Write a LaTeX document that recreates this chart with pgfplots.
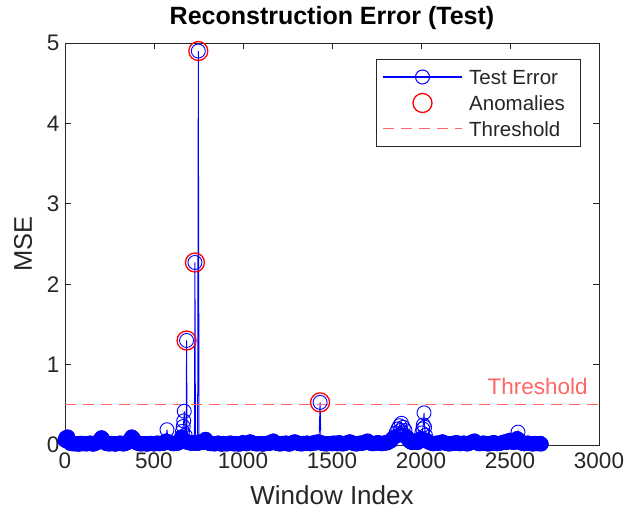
\documentclass[border=0pt]{standalone}
\usepackage{fontspec}
\setmainfont{Liberation Sans}
\usepackage{pgfplots}
\pgfplotsset{compat=1.18}
\usepackage{pgfplotstable}
\definecolor{errblue}{RGB}{0,0,255}
\definecolor{anomred}{RGB}{255,0,0}
\definecolor{thrred}{RGB}{255,102,102}
\definecolor{axgray}{RGB}{38,38,38}

% window index, mse
\pgfplotstableread{
x y
0 0.06
5 0.09
10 0.05
15 0.10
20 0.04
30 0.02
40 0.015
50 0.02
60 0.012
70 0.018
80 0.01
90 0.022
100 0.015
110 0.02
120 0.012
130 0.018
140 0.025
150 0.015
160 0.01
170 0.02
180 0.03
190 0.05
200 0.07
205 0.09
210 0.08
220 0.04
230 0.02
240 0.015
250 0.012
260 0.02
270 0.018
280 0.01
290 0.015
300 0.02
310 0.025
320 0.015
330 0.012
340 0.02
350 0.03
360 0.05
370 0.08
375 0.10
380 0.09
390 0.06
400 0.03
410 0.02
420 0.015
430 0.012
440 0.018
450 0.02
460 0.01
470 0.015
480 0.022
490 0.018
500 0.012
510 0.02
520 0.025
530 0.015
540 0.02
550 0.018
560 0.03
567 0.05
573 0.19
580 0.04
590 0.03
600 0.02
610 0.015
620 0.025
630 0.02
640 0.03
650 0.05
655 0.10
660 0.17
664 0.23
667 0.30
670 0.42
675 0.12
680 0.05
683 1.30
686 0.04
690 0.03
700 0.03
710 0.02
720 0.025
727 0.03
730 2.27
733 0.03
740 0.02
745 0.02
749 4.90
753 0.03
760 0.04
770 0.03
780 0.05
790 0.07
800 0.04
810 0.02
820 0.015
830 0.02
840 0.012
850 0.018
860 0.025
870 0.015
880 0.01
890 0.02
900 0.015
910 0.012
920 0.02
930 0.025
940 0.018
950 0.012
960 0.02
970 0.015
980 0.01
990 0.02
1000 0.03
1010 0.02
1020 0.015
1030 0.025
1040 0.04
1050 0.03
1060 0.02
1070 0.015
1080 0.012
1090 0.02
1100 0.018
1110 0.01
1120 0.015
1130 0.02
1140 0.025
1150 0.02
1160 0.03
1170 0.05
1180 0.03
1190 0.02
1200 0.015
1210 0.012
1220 0.02
1230 0.018
1240 0.025
1250 0.015
1260 0.01
1270 0.02
1280 0.03
1290 0.04
1300 0.03
1310 0.02
1320 0.015
1330 0.012
1340 0.02
1350 0.018
1360 0.025
1370 0.02
1380 0.015
1390 0.02
1400 0.03
1410 0.025
1420 0.04
1427 0.03
1433 0.53
1438 0.03
1445 0.02
1455 0.015
1460 0.02
1470 0.012
1480 0.018
1490 0.02
1500 0.015
1510 0.025
1520 0.02
1530 0.015
1540 0.03
1550 0.02
1560 0.012
1570 0.018
1580 0.025
1590 0.03
1600 0.04
1610 0.03
1620 0.02
1630 0.015
1640 0.012
1650 0.02
1660 0.025
1670 0.02
1680 0.03
1690 0.04
1700 0.05
1710 0.03
1720 0.02
1730 0.015
1740 0.02
1750 0.025
1760 0.03
1770 0.02
1780 0.015
1790 0.02
1800 0.03
1810 0.025
1820 0.04
1830 0.05
1840 0.08
1850 0.10
1860 0.15
1870 0.20
1875 0.12
1880 0.24
1885 0.18
1890 0.27
1895 0.15
1900 0.22
1905 0.12
1910 0.18
1920 0.10
1930 0.06
1940 0.04
1950 0.03
1960 0.05
1970 0.04
1980 0.03
1990 0.05
2000 0.08
2005 0.15
2010 0.20
2013 0.25
2017 0.40
2020 0.22
2025 0.12
2030 0.06
2040 0.04
2050 0.03
2060 0.02
2070 0.015
2080 0.02
2090 0.025
2100 0.02
2110 0.03
2120 0.04
2130 0.03
2140 0.02
2150 0.015
2160 0.012
2170 0.02
2180 0.018
2190 0.025
2200 0.03
2210 0.02
2220 0.015
2230 0.02
2240 0.025
2250 0.018
2260 0.012
2270 0.02
2280 0.03
2290 0.04
2300 0.05
2310 0.03
2320 0.02
2330 0.015
2340 0.02
2350 0.025
2360 0.02
2370 0.015
2380 0.012
2390 0.02
2400 0.025
2410 0.03
2420 0.02
2430 0.015
2440 0.02
2450 0.025
2460 0.03
2470 0.04
2480 0.03
2490 0.05
2500 0.06
2510 0.04
2520 0.03
2530 0.05
2540 0.08
2545 0.16
2550 0.06
2560 0.03
2570 0.02
2580 0.015
2590 0.02
2600 0.025
2610 0.02
2620 0.015
2630 0.012
2640 0.02
2650 0.018
2660 0.015
2670 0.02
2675 0.012
}\testerr

\pgfplotstableread{
x y
683 1.30
730 2.27
749 4.90
1433 0.53
}\anomalies

\begin{document}
\begin{tikzpicture}
\begin{axis}[
  at={(0,0)}, anchor=origin,
  scale only axis, width=534pt, height=402pt, clip=false,
  xmin=0, xmax=3000, ymin=0, ymax=5,
  xtick={0,500,...,3000}, ytick={0,1,...,5},
  scaled x ticks=false,
  /pgf/number format/1000 sep={},
  /pgf/number format/assume math mode=true,
  tick align=inside, major tick length=6pt,
  axis line style={axgray, line width=0.6pt},
  tick style={axgray, line width=0.6pt},
  ticklabel style={font=\fontsize{22.5}{27}\selectfont, text=axgray},
  xticklabel style={yshift=-4pt},
  yticklabel style={xshift=-2pt},
  title={Reconstruction Error (Test)},
  title style={font=\fontsize{25}{30}\selectfont\bfseries, at={(0.5,1)}, anchor=base, yshift=12pt},
  xlabel={Window Index},
  xlabel style={font=\fontsize{26}{31}\selectfont, text=axgray, at={(0.5,0)}, anchor=base, yshift=-60pt},
  ylabel={MSE},
  ylabel style={font=\fontsize{25.5}{31}\selectfont, text=axgray, at={(0,0.5)}, anchor=base, yshift=33pt},
]
% the dense run of low errors: overlapping rings read as one solid band
\addplot[only marks, restrict y to domain=0:0.1, mark=*, mark size=7pt,
  mark options={draw=errblue, fill=errblue, line width=0.9pt}] table[x=x, y=y] {\testerr};
\addplot[errblue, line width=0.9pt, mark=o, mark size=7pt, mark options={solid}] table[x=x, y=y] {\testerr};
\addplot[only marks, anomred, mark=o, mark size=9.5pt, mark options={line width=1.3pt}] table[x=x, y=y] {\anomalies};
\addplot[thrred, line width=1pt, dash pattern=on 11pt off 7pt] coordinates {(0,0.5) (3000,0.5)};
\node[anchor=base east, inner sep=0pt, text=thrred, font=\fontsize{22.5}{27}\selectfont] at (axis cs:2938,0.5) [yshift=10pt] {Threshold};
\end{axis}
% legend
\begin{scope}[font=\fontsize{20.5}{24}\selectfont]
\draw[axgray, line width=0.6pt, fill=white] (311pt,299pt) rectangle (515pt,386pt);
\draw[errblue, line width=1.2pt] (318pt,368pt) -- (397pt,368pt);
\draw[errblue, line width=1pt] (357.5pt,368pt) circle[radius=7pt];
\draw[anomred, line width=1.3pt] (357.5pt,342pt) circle[radius=9.5pt];
\draw[thrred, line width=1pt, dash pattern=on 11pt off 7pt] (318pt,316pt) -- (397pt,316pt);
\node[anchor=base west, inner sep=0pt, text=axgray] at (404pt,360.7pt) {Test Error};
\node[anchor=base west, inner sep=0pt, text=axgray] at (404pt,334.7pt) {Anomalies};
\node[anchor=base west, inner sep=0pt, text=axgray] at (404pt,308.7pt) {Threshold};
\end{scope}
\pgfresetboundingbox
\path (-65pt,-68pt) rectangle (561pt,445pt);
\end{tikzpicture}
\end{document}
